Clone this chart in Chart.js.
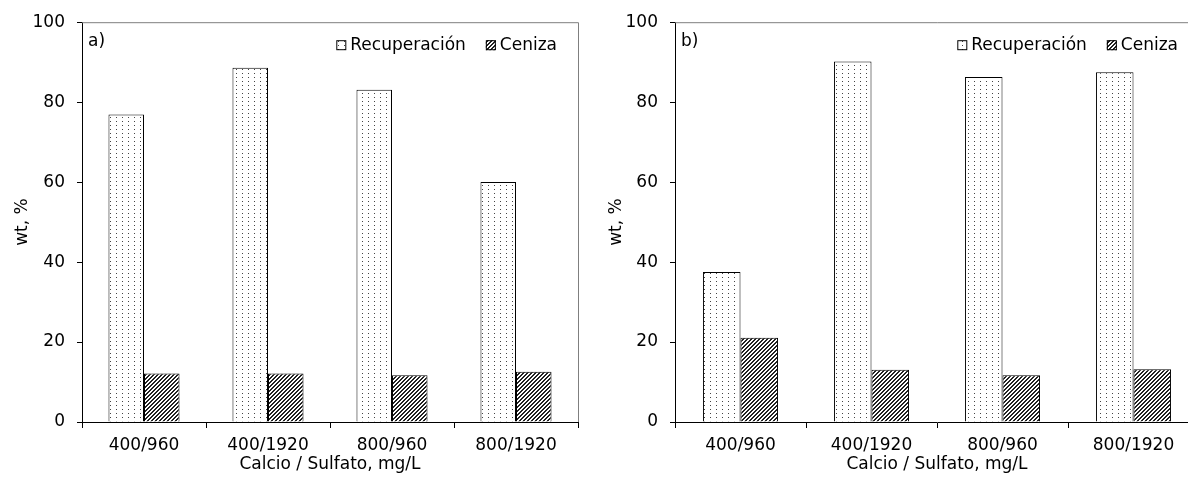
<!DOCTYPE html>
<html>
<head>
<meta charset="utf-8">
<script src="https://cdn.jsdelivr.net/npm/chart.js@4.4.0/dist/chart.umd.min.js"></script>
<style>
  body { margin: 0; width: 1188px; height: 480px; overflow: hidden; background: #fff; position: relative; }
  #chartA { position: absolute; left: 0; top: 0; }
  #chartB { position: absolute; left: 594px; top: 0; }
</style>
</head>
<body>
<canvas id="chartA" width="594" height="480"></canvas>
<canvas id="chartB" width="620" height="480"></canvas>
<script>
"use strict";

// Categorias del eje x (Calcio / Sulfato, mg/L)
const categories = ['400/960', '400/1920', '800/960', '800/1920'];

// Panel a)
const recupA = [76.9, 88.6, 83.1, 60.0];
const cenizaA = [12.1, 12.1, 11.7, 12.6];

// Panel b)
const recupB = [37.5, 90.2, 86.3, 87.5];
const cenizaB = [21.1, 13.1, 11.7, 13.2];

// Marcas del eje y
const yTicks = [0, 20, 40, 60, 80, 100];

const font = { family: 'DejaVu Sans', size: 17 };
const fontCss = '17px "DejaVu Sans"';

//Trama de puntos para Recuperación
function dotPattern() {
  const c = document.createElement('canvas');
  c.width = 6;
  c.height = 4;
  const g = c.getContext('2d');
  g.fillStyle = '#fff';
  g.fillRect(0, 0, 6, 4);
  g.fillStyle = '#444';
  g.fillRect(2, 1, 1, 1);
  return g.createPattern(c, 'repeat');
}

//Trama rayada para Ceniza
function hatchPattern() {
  const c = document.createElement('canvas');
  c.width = 4;
  c.height = 4;
  const g = c.getContext('2d');
  g.fillStyle = '#fff';
  g.fillRect(0, 0, 4, 4);
  g.fillStyle = '#222';
  for (let x = 0; x < 4; x++) {
    g.fillRect(x, 3 - x, 1, 1);
    g.fillRect(x, (4 - x) % 4, 1, 1);
  }
  return g.createPattern(c, 'repeat');
}

const dots = dotPattern();
const hatch = hatchPattern();

//Marco gris arriba y a la derecha, etiqueta del panel y leyenda dentro del area
function framePlugin(panel) {
  return {
    id: 'frame',
    afterDraw(chart) {
      const { ctx, chartArea: a } = chart;
      ctx.save();
      ctx.strokeStyle = '#7f7f7f';
      ctx.lineWidth = 1;
      ctx.beginPath();
      ctx.moveTo(a.left, a.top + 0.5);
      ctx.lineTo(a.right + 0.5, a.top + 0.5);
      ctx.lineTo(a.right + 0.5, a.bottom);
      ctx.stroke();

      ctx.fillStyle = '#000';
      ctx.font = fontCss;
      ctx.textBaseline = 'middle';
      ctx.fillText(panel, a.left + 6, a.top + 19);

      //leyenda, de derecha a izquierda
      const items = Chart.defaults.plugins.legend.labels.generateLabels(chart);
      const y = a.top + 23;
      let x = a.right - 21;
      for (let i = items.length - 1; i >= 0; i--) {
        const it = items[i];
        const w = ctx.measureText(it.text).width;
        ctx.fillStyle = '#000';
        ctx.fillText(it.text, x - w, y);
        const bx = x - w - 4 - 10;
        ctx.fillStyle = it.fillStyle;
        ctx.fillRect(bx, y - 5, 10, 10);
        ctx.strokeStyle = '#000';
        ctx.strokeRect(bx + 0.5, y - 4.5, 9, 9);
        x = bx - 20;
      }
      ctx.restore();
    }
  };
}

function drawChart(id, recup, ceniza, panel, yWidth, padRight) {
  new Chart(document.getElementById(id), {
    type: 'bar',
    data: {
      labels: categories,
      datasets: [
        { label: 'Recuperación', data: recup, backgroundColor: dots, borderColor: '#000', borderWidth: 1 },
        { label: 'Ceniza', data: ceniza, backgroundColor: hatch, borderColor: '#000', borderWidth: 1 }
      ]
    },
    options: {
      responsive: false,
      animation: false,
      devicePixelRatio: 1,
      layout: { padding: { top: 19, right: padRight, left: 0, bottom: 0 } },
      datasets: { bar: { categoryPercentage: 0.573, barPercentage: 1 } },
      plugins: {
        legend: { display: false },
        tooltip: { enabled: false }
      },
      scales: {
        x: {
          grid: { drawOnChartArea: false, tickLength: 6, color: '#000' },
          border: { color: '#000' },
          ticks: { font, color: '#000', padding: 7, maxRotation: 0 },
          title: { display: true, text: 'Calcio / Sulfato, mg/L', font, color: '#000', padding: { top: 0, bottom: 5 } },
          afterFit: s => { s.height = 58; }
        },
        y: {
          min: 0,
          max: 100,
          afterBuildTicks: s => { s.ticks = yTicks.map(v => ({ value: v })); },
          grid: { drawOnChartArea: false, tickLength: 5, color: '#000' },
          border: { color: '#000' },
          ticks: { font, color: '#000', padding: 12 },
          title: { display: true, text: 'wt, %', font, color: '#000', padding: { top: 12, bottom: 0 } },
          afterFit: s => { s.width = yWidth; }
        }
      }
    },
    plugins: [framePlugin(panel)]
  });
}

drawChart('chartA', recupA, cenizaA, 'a)', 82, 16);
drawChart('chartB', recupB, cenizaB, 'b)', 81, 15);
</script>
</body>
</html>
